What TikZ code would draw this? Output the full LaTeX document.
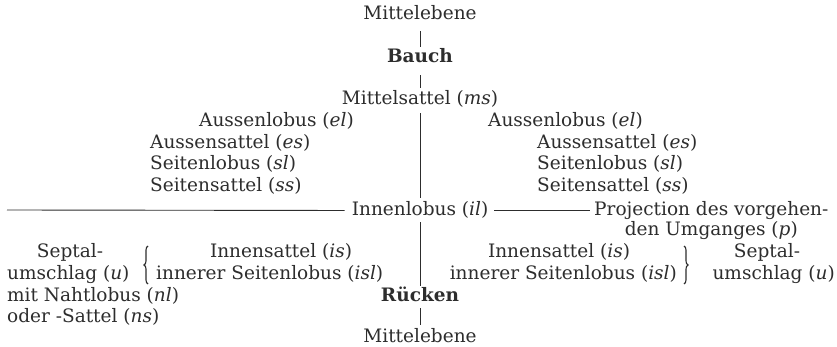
\documentclass[tikz,border=0pt]{standalone}
\usepackage{fontspec}
\setmainfont{DejaVu Serif}
\usetikzlibrary{decorations.pathreplacing}
\definecolor{ink}{RGB}{45,45,45}
\begin{document}
\begin{tikzpicture}[x=1pt,y=-1pt,
  lbl/.style={font=\fontsize{18.5}{21}\selectfont, text=ink, inner sep=0pt, text height=14pt, text depth=5pt},
  lblb/.style={lbl, font=\fontsize{18.5}{21}\selectfont\bfseries},
  bw/.style={lbl, anchor=base west},
  be/.style={lbl, anchor=base east},
  bc/.style={lbl, anchor=base},
  bcb/.style={lblb, anchor=base},
  conn/.style={draw=ink, line width=0.9pt},
  bracestyle/.style={draw=ink, line width=1.1pt, decorate, decoration={brace, amplitude=4pt}}
]
\useasboundingbox (0,0) rectangle (837,347);
\fill[white] (0,0) rectangle (837,347);

% central column
\node[bc]  (mt)    at (420,20)  {Mittelebene};
\node[bcb] (bauch) at (420,63)  {Bauch};
\node[bc]  (ms)    at (420,105) {Mittelsattel (\textit{ms})};
\node[bc]  (il)    at (420,215) {Innenlobus (\textit{il})};
\node[bcb] (rue)   at (420,301) {Rücken};
\node[bc]  (mb)    at (420,342) {Mittelebene};

% left upper column
\node[be] (elL) at (354,127) {Aussenlobus (\textit{el})};
\node[bw] (esL) at (150,149) {Aussensattel (\textit{es})};
\node[bw] (slL) at (150,170) {Seitenlobus (\textit{sl})};
\node[bw] (ssL) at (150,192) {Seitensattel (\textit{ss})};

% right upper column
\node[bw] (elR) at (488,127) {Aussenlobus (\textit{el})};
\node[bw] (esR) at (537,149) {Aussensattel (\textit{es})};
\node[bw] (slR) at (537,170) {Seitenlobus (\textit{sl})};
\node[bw] (ssR) at (537,192) {Seitensattel (\textit{ss})};

% projection
\node[bw] (proj)  at (594,215) {Projection des vorgehen-};
\node[bc] (proj2) at ([yshift=-21pt]proj.base) {den Umganges (\textit{p})};
\coordinate (lend) at (7,210);

% left lower block
\node[bc] (septL) at (70,258)  {Septal-};
\node[bw] (umL)   at (7,279)   {umschlag (\textit{u})};
\node[bw] (nahtL) at (7,301)   {mit Nahtlobus (\textit{nl})};
\node[bw] (nsL)   at (7,322)   {oder -Sattel (\textit{ns})};
\node[bc] (isL)   at (281,258) {Innensattel (\textit{is})};
\node[bw] (islL)  at (156,279) {innerer Seitenlobus (\textit{isl})};
\coordinate (bLtop) at (148,246);
\coordinate (bLbot) at (148,284);

% right lower block
\node[bc] (isR)   at (559,258) {Innensattel (\textit{is})};
\node[be] (islR)  at (677,279) {innerer Seitenlobus (\textit{isl})};
\node[bc] (septR) at (767,258) {Septal-};
\node[be] (umR)   at (835,279) {umschlag (\textit{u})};
\coordinate (bRtop) at (684,246);
\coordinate (bRbot) at (684,284);

% connectors
\draw[conn, shorten <=6pt, shorten >=2pt] (mt.south) -- (bauch.north);
\draw[conn, shorten <=7pt, shorten >=3pt] (bauch.south) -- (ms.north);
\draw[conn, shorten <=3pt, shorten >=3pt] (ms.south) -- (il.north);
\draw[conn, shorten <=2pt, shorten >=1pt] (il.south) -- (rue.north);
\draw[conn, shorten <=2pt, shorten >=3pt] (rue.south) -- (mb.north);
\draw[conn, shorten >=7pt] (lend) -- (il.west);
\draw[conn, shorten <=6pt, shorten >=4pt] (il.east) -- (proj.west);

% braces
\draw[bracestyle] (bLbot) -- (bLtop);
\draw[bracestyle] (bRtop) -- (bRbot);
\end{tikzpicture}
\end{document}
